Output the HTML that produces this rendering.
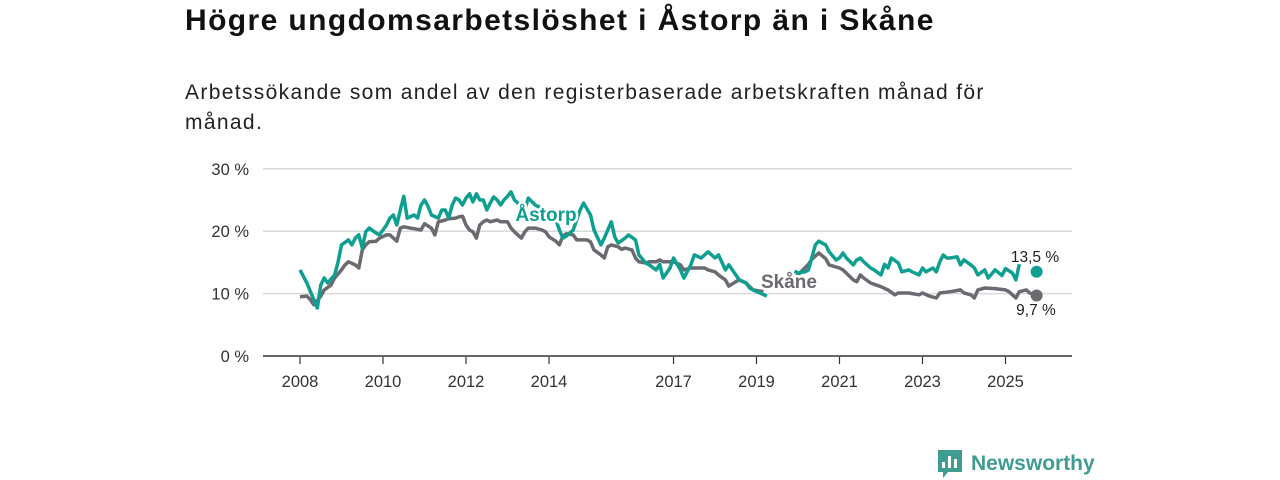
<!DOCTYPE html>
<html><head><meta charset="utf-8">
<style>
body{margin:0;width:1280px;height:480px;background:#fff;font-family:"Liberation Sans","DejaVu Sans",sans-serif;overflow:hidden;position:relative}
#title{position:absolute;left:185px;top:4px;font-size:30px;letter-spacing:1.4px;font-weight:bold;color:#111;margin:0}
#sub{position:absolute;left:185px;top:78px;width:900px;font-size:21px;letter-spacing:1.35px;line-height:30px;color:#222}
svg{position:absolute;left:0;top:0}
</style></head><body>
<h1 id="title">Högre ungdomsarbetslöshet i Åstorp än i Skåne</h1>
<div id="sub">Arbetssökande som andel av den registerbaserade arbetskraften månad för<br>månad.</div>
<svg id="chart" width="1280" height="480"></svg>
<script>
const yTicks=[0,10,20,30];
const xTickYears=[2008,2010,2012,2014,2017,2019,2021,2023,2025];
const astorpMonths=[0,2,4,5,6,7,8,10,11,12,14,15,16,17,18,19,20,22,23,25,26,27,28,29,30,31,33,34,35,36,37,38,40,41,42,43,44,45,46,47,48,49,50,51,52,53,54,55,56,57,58,59,60,61,62,63,65,66,68,71,74,75,76,77,79,81,82,84,85,87,88,90,91,92,94,95,97,98,100,101,103,104,105,107,108,110,111,113,114,116,117,118,120,121,123,124,126,127,129,130,131,135,143,144,146,147,148,149,150,152,153,155,156,157,158,160,161,162,163,164,165,166,168,169,170,171,173,174,176,177,179,180,181,183,184,185,186,187,188,190,191,192,194,195,196,198,199,201,203,204,206,207,208];
const astorpValues=[13.8,11.7,9.0,7.7,11.4,12.5,11.7,13.0,15.0,17.8,18.6,17.8,18.9,19.4,17.3,19.9,20.5,19.7,19.4,21.0,22.1,22.6,21.0,23.4,25.6,22.1,22.6,22.1,24.2,25.0,24.0,22.6,22.1,23.4,23.4,22.1,24.2,25.3,25.0,24.2,25.3,26.0,24.7,26.0,25.0,25.0,23.4,24.5,25.5,25.0,24.2,25.0,25.6,26.3,25.0,24.5,23.5,25.3,24.2,23.4,21.8,20.2,18.9,19.2,20.2,23.4,24.5,22.6,20.2,17.8,18.9,21.5,19.1,18.1,18.9,19.4,18.6,16.2,14.9,14.6,13.8,14.7,12.5,14.1,15.7,13.8,12.5,14.6,16.2,15.7,16.2,16.7,15.7,16.2,13.8,14.6,13.0,12.2,11.7,10.9,10.6,9.6,13.6,13.3,13.5,13.8,15.7,17.8,18.4,17.8,16.7,15.4,15.7,16.5,15.7,14.6,15.4,15.7,15.1,14.6,14.1,13.8,13.0,14.7,14.1,15.7,14.9,13.5,13.8,13.5,13.0,14.1,13.5,14.1,13.5,15.1,16.2,15.7,15.7,15.9,14.6,15.4,14.6,14.1,13.0,13.8,12.5,13.8,12.9,14.0,13.3,12.2,14.7];
const astorpLast=[213,13.5];
const skaneMonths=[0,2,3,4,6,7,9,10,12,13,14,16,17,18,19,20,22,23,25,26,27,28,29,30,32,33,35,36,38,39,40,42,43,45,46,47,48,49,50,51,52,53,54,55,57,58,60,61,62,64,65,66,67,68,70,71,72,74,75,76,77,79,80,81,83,84,85,87,88,89,90,92,93,94,96,97,98,100,101,103,104,105,107,108,110,111,113,114,116,117,118,120,121,123,124,126,127,129,130,131,134,139,142,144,147,148,150,152,153,156,157,160,161,162,163,165,168,170,172,173,176,179,180,182,184,185,188,189,191,192,194,195,196,198,201,204,205,207,208,210,211,213];
const skaneValues=[9.5,9.6,9.0,8.2,9.6,10.6,11.4,12.5,13.8,14.6,15.1,14.6,14.1,17.0,17.8,18.3,18.4,18.9,19.4,19.4,18.9,18.4,20.5,20.7,20.5,20.4,20.2,21.2,20.5,19.4,21.5,21.8,22.0,22.1,22.3,22.4,21.0,20.2,19.9,18.9,21.0,21.5,21.8,21.5,21.8,21.5,21.5,20.5,19.9,18.9,19.9,20.5,20.5,20.5,20.2,19.9,19.1,18.4,17.8,19.2,19.6,19.4,18.6,18.6,18.6,18.3,17.0,16.2,15.7,17.5,17.8,17.5,17.1,17.3,17.0,15.7,15.1,14.9,15.1,15.1,15.4,15.1,15.1,15.1,14.6,13.8,14.1,14.1,14.1,14.1,13.8,13.5,13.0,12.2,11.2,11.9,12.2,11.7,11.1,10.6,10.3,11.0,12.0,13.0,14.7,15.5,16.5,15.6,14.6,14.1,13.8,12.2,11.9,13.0,12.5,11.7,11.1,10.6,9.8,10.1,10.1,9.8,10.1,9.6,9.3,10.1,10.3,10.4,10.6,10.1,9.8,9.3,10.6,10.9,10.8,10.6,10.3,9.3,10.3,10.6,10.1,9.7];

const NS="http://www.w3.org/2000/svg";
const svg=document.getElementById('chart');
const X0=300, PX_YEAR=41.5, Y0=356, PX_PCT=6.24;
function xScale(m){return X0+m*PX_YEAR/12;}
function yScale(v){return Y0-v*PX_PCT;}
function mk(tag,attrs,parent){const e=document.createElementNS(NS,tag);for(const k in attrs)e.setAttribute(k,attrs[k]);(parent||svg).appendChild(e);return e;}

yTicks.forEach(t=>{
  const l=mk('line',{x1:263,x2:1072,y1:yScale(t),y2:yScale(t),stroke:t===0?'#333':'#d9d9d9','stroke-width':1.5});
  
  
  const tx=mk('text',{x:249,y:yScale(t)+6,'text-anchor':'end','font-size':16.5,fill:'#333'});
  tx.textContent=t+' %';
  
  
});
xTickYears.forEach(yr=>{
  const x=xScale((yr-2008)*12);
  const l=mk('line',{x1:x,x2:x,y1:357,y2:364,stroke:'#333','stroke-width':1.2});
  
  
  const tx=mk('text',{x:x,y:387,'text-anchor':'middle','font-size':16.5,fill:'#333'});
  tx.textContent=yr;
  
  
});

function pathFrom(ms,vs){
  let d='',prev=null;
  ms.forEach((m,i)=>{
    const gap=prev!==null && m-prev>4;
    d+=(i===0||gap?'M':'L')+xScale(m).toFixed(1)+' '+yScale(vs[i]).toFixed(1)+' ';
    prev=m;
  });
  return d;
}
const sk=mk('path',{d:pathFrom(skaneMonths,skaneValues),fill:'none',stroke:'#6c6a70','stroke-width':3.5,'stroke-linejoin':'round'});


const as=mk('path',{d:pathFrom(astorpMonths,astorpValues),fill:'none',stroke:'#0e9f91','stroke-width':3.5,'stroke-linejoin':'round'});



const dA=mk('circle',{cx:xScale(astorpLast[0]),cy:yScale(astorpLast[1]),r:6,fill:'#0e9f91'});


const skLast=skaneValues[skaneValues.length-1], skLastM=skaneMonths[skaneMonths.length-1];
const dS=mk('circle',{cx:xScale(skLastM),cy:yScale(skLast),r:6,fill:'#6c6a70'});



function label(txt,x,y,color,size,bold,name,anchor){
  const t=mk('text',{x:x,y:y,'text-anchor':anchor||'middle','font-size':size,'font-weight':bold?'bold':'normal',fill:color,stroke:'#fff','stroke-width':bold?5:4,'paint-order':'stroke','stroke-linejoin':'round'});
  t.textContent=txt;
  
  
}
label('Åstorp',546,221,'#0e9f91',19,true,'astorp-series-label');
label('Skåne',789,288,'#6c6a70',19,true,'skane-series-label');
label(String(astorpLast[1]).replace('.',',')+' %',1035,262,'#222',15.5,false,'astorp-end-value');
label(String(skLast).replace('.',',')+' %',1036,315,'#222',15.5,false,'skane-end-value');

const g=mk('g',{});


mk('path',{d:'M938 450 h24 v22 h-14 l-5 6 v-6 h-5 z',fill:'#3f9c90'},g);
mk('rect',{x:942,y:462,width:3,height:6,fill:'#fff'},g);
mk('rect',{x:948,y:456,width:3,height:12,fill:'#fff'},g);
mk('rect',{x:954,y:459,width:3,height:9,fill:'#fff'},g);
const lt=mk('text',{x:971,y:470,'font-size':21,'font-weight':'bold',fill:'#3f9c90'},g);
lt.textContent='Newsworthy';
</script>
</body></html>
